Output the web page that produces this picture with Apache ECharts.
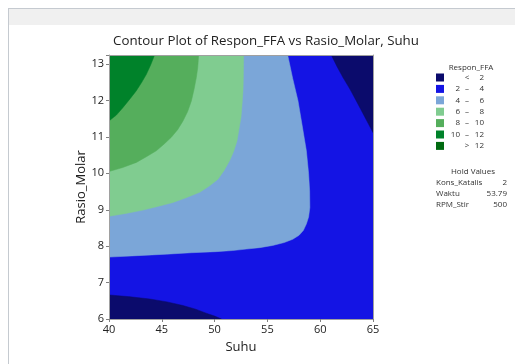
<!DOCTYPE html>
<html><head><meta charset="utf-8">
<script src="https://cdn.jsdelivr.net/npm/echarts@6/dist/echarts.min.js"></script>
<style>html,body{margin:0;padding:0;background:#fff;}#c{width:515px;height:364px;}</style>
</head><body><div id="c"></div>
<script>
// Axis ranges and ticks
const xTicks = [40, 45, 50, 55, 60, 65];
const yTicks = [6, 7, 8, 9, 10, 11, 12, 13];
const X_MIN = 40, X_MAX = 65, Y_MIN = 6, Y_MAX = 13.25;

// Contour levels and legend
const levelLabels = [['', '<', '2'], ['2', '–', '4'], ['4', '–', '6'], ['6', '–', '8'], ['8', '–', '10'], ['10', '–', '12'], ['', '>', '12']];
const levelColors = ['#0b0b6c', '#1414e4', '#7ba6d8', '#80cc90', '#55ae5c', '#00822a', '#006a10'];

// Hold values
const holdNames = ['Kons_Katalis', 'Waktu', 'RPM_Stir'];
const holdValues = ['2', '53.79', '500'];

// Contour boundaries (Suhu, Rasio_Molar)
const c2Low = [[40,6.66],[42,6.61],[43.85,6.55],[45.5,6.47],[47,6.37],[48.2,6.27],[49.2,6.16],[50.0,6.08],[50.64,6]];
const c2High = [[61.05,13.25],[61.6,12.93],[62.16,12.63],[62.8,12.32],[63.42,11.99],[64.2,11.56],[65,11.12]];
const c4 = [[56.92,13.25],[57.4,12.6],[57.9,11.99],[58.3,11.3],[58.69,10.62],[58.9,10.0],[59.0,9.52],[59.02,9.06],[58.9,8.8],[58.69,8.61],[58.4,8.43],[58.0,8.3],[57.4,8.19],[56.6,8.1],[55.5,8.02],[54.27,7.96],[53.0,7.92],[51.7,7.88],[50.16,7.85],[47.8,7.82],[45.43,7.78],[42.7,7.74],[40,7.7]];
const c6 = [[52.75,13.25],[52.72,12.6],[52.69,12.27],[52.6,11.9],[52.5,11.54],[52.3,11.2],[52.12,10.89],[51.8,10.6],[51.43,10.35],[50.9,10.08],[50.32,9.84],[49.5,9.65],[48.59,9.48],[47.3,9.33],[46.06,9.2],[44.6,9.09],[43.22,8.99],[41.6,8.9],[40,8.82]];
const c8 = [[48.49,13.25],[48.4,12.9],[48.27,12.63],[48.05,12.3],[47.8,11.99],[47.45,11.7],[47.01,11.44],[46.5,11.2],[45.9,10.99],[45.2,10.8],[44.48,10.62],[43.5,10.45],[42.59,10.3],[41.3,10.16],[40,10.05]];
const c10 = [[44.32,13.25],[43.95,12.98],[43.54,12.72],[43.1,12.5],[42.59,12.27],[42.0,12.05],[41.33,11.81],[40.7,11.6],[40,11.44]];

// Regions (filled in drawing order)
const regions = [
  { pts: [[X_MIN,Y_MIN],[X_MAX,Y_MIN],[X_MAX,Y_MAX],[X_MIN,Y_MAX]], level: 1 },
  { pts: c2Low.concat([[X_MIN,Y_MIN]]), level: 0 },
  { pts: c2High.concat([[X_MAX,Y_MAX]]), level: 0 },
  { pts: c4.concat([[X_MIN,Y_MAX]]), level: 2 },
  { pts: c6.concat([[X_MIN,Y_MAX]]), level: 3 },
  { pts: c8.concat([[X_MIN,Y_MAX]]), level: 4 },
  { pts: c10.concat([[X_MIN,Y_MAX]]), level: 5 }
];

const FONT = 'Open Sans';
const chart = echarts.init(document.getElementById('c'), null, { renderer: 'canvas' });

const series = regions.map(r => ({
  type: 'custom', coordinateSystem: 'cartesian2d', silent: true, clip: true, z: 2,
  data: [r.pts[0]],
  renderItem: function (params, api) {
    return { type: 'polygon', shape: { points: r.pts.map(p => api.coord(p)) },
      style: { fill: levelColors[r.level], stroke: levelColors[r.level], lineWidth: 0.5 } };
  }
}));

// Graphic elements: frame, title, legend, hold values
const g = [];
g.push({ type: 'rect', shape: { x: 8, y: 9, width: 507, height: 16 }, style: { fill: '#f0f0f0' }, silent: true });
g.push({ type: 'rect', shape: { x: 8, y: 8, width: 507, height: 1 }, style: { fill: '#c5cad0' }, silent: true });
g.push({ type: 'rect', shape: { x: 8, y: 8, width: 1, height: 356 }, style: { fill: '#c5cad0' }, silent: true });
g.push({ type: 'text', x: 266, y: 41, style: { text: 'Contour Plot of Respon_FFA vs Rasio_Molar, Suhu', font: '13.3px "' + FONT + '"', fill: '#222', textAlign: 'center', textVerticalAlign: 'middle' } });
g.push({ type: 'text', x: 471, y: 68, style: { text: 'Respon_FFA', font: '8px "' + FONT + '"', fill: '#333', textAlign: 'center', textVerticalAlign: 'middle' } });
levelLabels.forEach((lab, i) => {
  const yc = 77.5 + i * 11.4;
  g.push({ type: 'rect', shape: { x: 436, y: yc - 4, width: 8, height: 8 }, style: { fill: levelColors[i] } });
  g.push({ type: 'text', x: 460, y: yc, style: { text: lab[0], font: '8px "' + FONT + '"', fill: '#333', textAlign: 'right', textVerticalAlign: 'middle' } });
  g.push({ type: 'text', x: 467, y: yc, style: { text: lab[1], font: '8px "' + FONT + '"', fill: '#333', textAlign: 'center', textVerticalAlign: 'middle' } });
  g.push({ type: 'text', x: 484, y: yc, style: { text: lab[2], font: '8px "' + FONT + '"', fill: '#333', textAlign: 'right', textVerticalAlign: 'middle' } });
});
g.push({ type: 'text', x: 473, y: 172, style: { text: 'Hold Values', font: '8px "' + FONT + '"', fill: '#333', textAlign: 'center', textVerticalAlign: 'middle' } });
holdNames.forEach((n, i) => {
  const yc = 183 + i * 10.7;
  g.push({ type: 'text', x: 436, y: yc, style: { text: n, font: '8px "' + FONT + '"', fill: '#333', textAlign: 'left', textVerticalAlign: 'middle' } });
  g.push({ type: 'text', x: 507, y: yc, style: { text: holdValues[i], font: '8px "' + FONT + '"', fill: '#333', textAlign: 'right', textVerticalAlign: 'middle' } });
});

const axisCommon = {
  type: 'value', splitLine: { show: false }, z: 10,
  axisLine: { show: true, lineStyle: { color: '#a0a0a0', width: 1 } },
  axisTick: { show: true, length: 3, lineStyle: { color: '#808080' } },
  axisLabel: { color: '#222', fontSize: 11, fontFamily: FONT, margin: 5 }
};

chart.setOption({
  animation: false,
  backgroundColor: '#fff',
  grid: { left: 109, right: 142, top: 55, bottom: 45 },
  xAxis: [
    Object.assign({}, axisCommon, { min: X_MIN, max: X_MAX, interval: 5, position: 'bottom',
      name: 'Suhu', nameLocation: 'middle', nameGap: 22, nameMoveOverlap: false,
      nameTextStyle: { fontSize: 13, fontFamily: FONT, color: '#222' },
      axisLabel: Object.assign({}, axisCommon.axisLabel, { formatter: v => xTicks.includes(v) ? String(v) : '' }) }),
    { type: 'value', min: X_MIN, max: X_MAX, position: 'top', z: 10,
      axisLine: { show: true, lineStyle: { color: '#a0a0a0' } }, axisTick: { show: false }, axisLabel: { show: false }, splitLine: { show: false } }
  ],
  yAxis: [
    Object.assign({}, axisCommon, { min: Y_MIN, max: Y_MAX, interval: 1, position: 'left',
      name: 'Rasio_Molar', nameLocation: 'middle', nameGap: 21, nameMoveOverlap: false,
      nameTextStyle: { fontSize: 13, fontFamily: FONT, color: '#222' },
      axisLabel: Object.assign({}, axisCommon.axisLabel, { formatter: v => yTicks.includes(v) ? String(v) : '' }) }),
    { type: 'value', min: Y_MIN, max: Y_MAX, position: 'right', z: 10,
      axisLine: { show: true, lineStyle: { color: '#a0a0a0' } }, axisTick: { show: false }, axisLabel: { show: false }, splitLine: { show: false } }
  ],
  series: series,
  graphic: g
});
</script></body></html>
